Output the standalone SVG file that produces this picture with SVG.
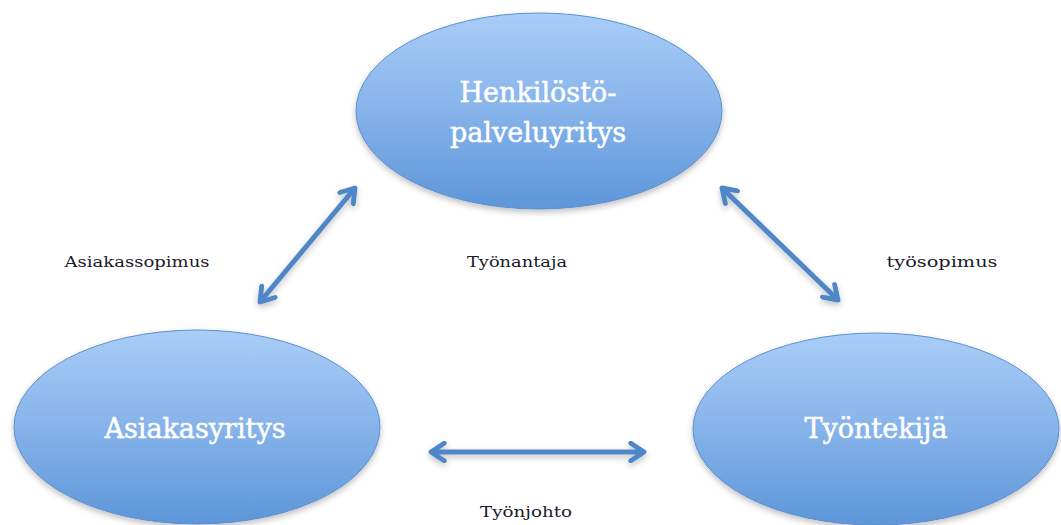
<svg xmlns="http://www.w3.org/2000/svg" width="1061" height="525" viewBox="0 0 1061 525">
<defs>
<linearGradient id="g" x1="0" y1="0" x2="0" y2="1">
<stop offset="0" stop-color="#a9cdf7"/>
<stop offset="0.5" stop-color="#86b3ea"/>
<stop offset="1" stop-color="#5d96d9"/>
</linearGradient>
<filter id="sh" filterUnits="userSpaceOnUse" x="0" y="0" width="1061" height="525">
<feGaussianBlur in="SourceAlpha" stdDeviation="3"/>
<feOffset dy="3" result="b"/>
<feComponentTransfer><feFuncA type="linear" slope="0.25"/></feComponentTransfer>
<feMerge><feMergeNode/><feMergeNode in="SourceGraphic"/></feMerge>
</filter>
<marker id="ah" viewBox="0 0 10 10" refX="8" refY="5" markerWidth="4.4" markerHeight="4.4" orient="auto-start-reverse" markerUnits="strokeWidth">
<polyline points="2,1 8,5 2,9" fill="none" stroke="#4f86c8" stroke-width="2.2" stroke-linecap="round" stroke-linejoin="round"/>
</marker>
</defs>
<style>
.node ellipse{fill:url(#g);stroke:#5b8fcf;stroke-width:1;filter:url(#sh)}
.nt{font-family:"DejaVu Serif","Liberation Serif",serif;font-size:27px;fill:#ffffff;stroke:#ffffff;stroke-width:0.5;text-anchor:middle}
.lbl{font-family:"DejaVu Serif","Liberation Serif",serif;font-size:15px;fill:#1a1a2a;text-anchor:middle}
.conn line{stroke:#4f86c8;stroke-width:5;marker-start:url(#ah);marker-end:url(#ah);filter:url(#sh)}
</style>
<rect width="1061" height="525" fill="#ffffff"/>
<g id="n-henkilosto" class="node">
<ellipse cx="539" cy="111" rx="183" ry="98"/>
<text class="nt" x="538" y="102">Henkilöstö-</text>
<text class="nt" x="538" y="142">palveluyritys</text>
</g>
<g id="n-asiakasyritys" class="node">
<ellipse cx="197" cy="427" rx="183" ry="97"/>
<text class="nt" x="195" y="438">Asiakasyritys</text>
</g>
<g id="n-tyontekija" class="node">
<ellipse cx="876" cy="429" rx="183" ry="96"/>
<text class="nt" x="876" y="438">Työntekijä</text>
</g>
<g id="connectors" class="conn">
<line x1="260" y1="302" x2="355" y2="188"/>
<line x1="722" y1="188" x2="838" y2="300"/>
<line x1="431" y1="452" x2="644" y2="452"/>
</g>
<g id="labels">
<text class="lbl" x="137" y="267" textLength="145" lengthAdjust="spacingAndGlyphs">Asiakassopimus</text>
<text class="lbl" x="517" y="267" textLength="100" lengthAdjust="spacingAndGlyphs">Työnantaja</text>
<text class="lbl" x="942" y="267" textLength="111" lengthAdjust="spacingAndGlyphs">työsopimus</text>
<text class="lbl" x="526" y="517" textLength="92" lengthAdjust="spacingAndGlyphs">Työnjohto</text>
</g>
</svg>
